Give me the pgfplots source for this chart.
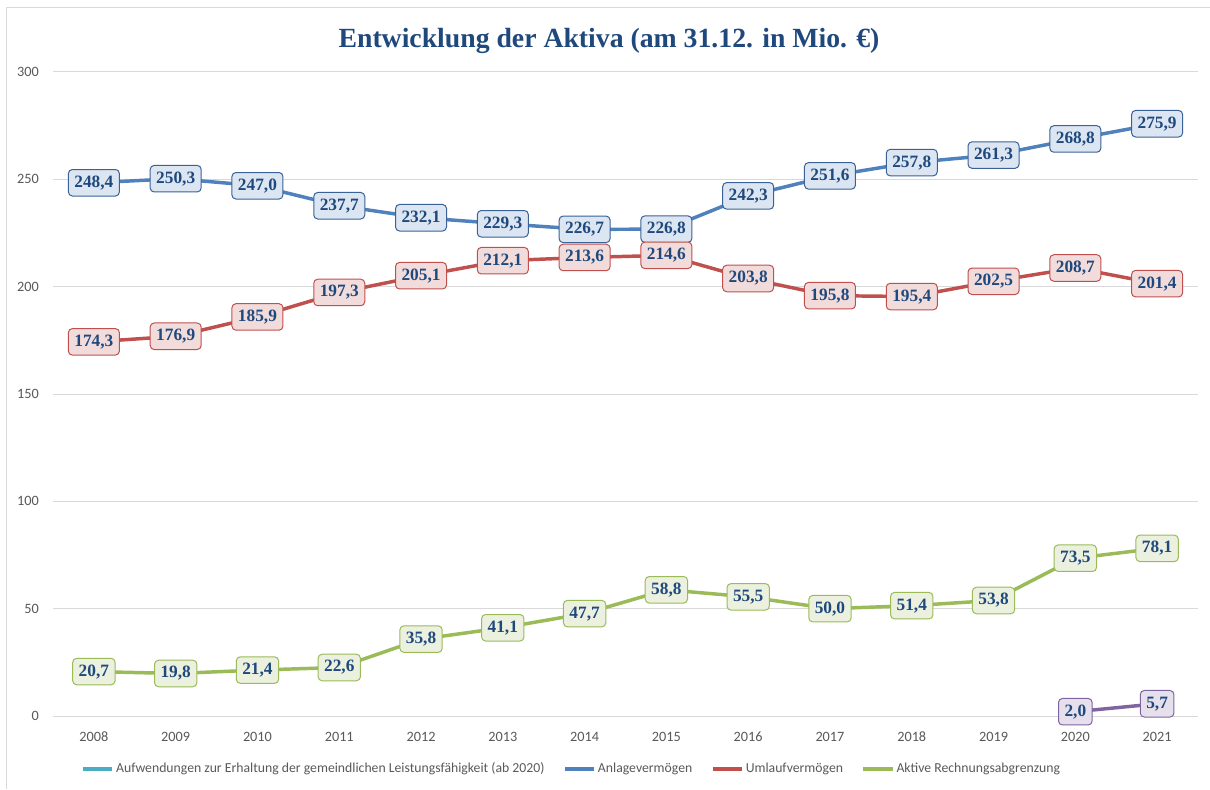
\documentclass[border=0pt]{standalone}
\usepackage{pgfplots}
\pgfplotsset{compat=1.18}
\usepackage{fontspec}
\setmainfont{Liberation Serif}
\newfontfamily\carlito{Carlito}
\definecolor{cblue}{HTML}{4F81BD}
\definecolor{cbluefill}{HTML}{DCE6F2}
\definecolor{cblueedge}{HTML}{3A6296}
\definecolor{cred}{HTML}{C0504D}
\definecolor{credfill}{HTML}{F2DCDB}
\definecolor{cgreen}{HTML}{9BBB59}
\definecolor{cgreenfill}{HTML}{EBF1DE}
\definecolor{cpurple}{HTML}{8064A2}
\definecolor{cpurplefill}{HTML}{E6E0EC}
\definecolor{ccyan}{HTML}{4BACC6}
\definecolor{labtext}{HTML}{1F497D}
\definecolor{titlecol}{HTML}{1F497D}
\definecolor{gridcol}{HTML}{D9D9D9}
\definecolor{tickcol}{HTML}{595959}
\begin{document}
\begin{tikzpicture}
\useasboundingbox (0,0) rectangle (907.5pt,591.75pt);
\fill[white] (0,0) rectangle (907.5pt,591.75pt);
\draw[gridcol, line width=0.75pt] (4.5pt,0pt) -- (4.5pt,585.75pt) -- (907.5pt,585.75pt);
\node[font=\bfseries\fontsize{20.8}{24}\selectfont, text=titlecol] at (456.75pt,561pt) {Entwicklung der Aktiva (am 31.12. in Mio. €)};
\begin{axis}[
  at={(39.75pt,54.75pt)}, anchor=south west,
  scale only axis, width=858.75pt, height=483pt,
  xmin=-0.5, xmax=13.5, ymin=0, ymax=300,
  xtick={0,...,13},
  xticklabels={2008,2009,2010,2011,2012,2013,2014,2015,2016,2017,2018,2019,2020,2021},
  ytick={0,50,...,300},
  ymajorgrids, grid style={gridcol, line width=0.75pt},
  axis line style={draw=none},
  major tick length=0pt,
  /pgf/number format/assume math mode=true,
  ticklabel style={font=\carlito\fontsize{10.7}{12}\selectfont, text=tickcol},
  yticklabel style={inner sep=0pt, anchor=east, xshift=-10.5pt},
  xticklabel style={inner sep=0pt, anchor=center, yshift=-15.75pt},
  clip=false,
  legend columns=4,
  legend style={at={(0.453,-0.082)}, anchor=center, draw=none, fill=none,
    font=\carlito\fontsize{10.3}{12}\selectfont, text=tickcol,
    /tikz/every even column/.append style={column sep=12.5pt},
    nodes={inner xsep=1.5pt}},
  legend image code/.code={\draw[#1, line width=2.6pt] (0pt,0pt) -- (22pt,0pt);},
  every axis plot/.append style={line width=2.6pt, line join=round, mark=none},
  nodes near coords,
  every node near coord/.append style={anchor=center, rounded corners=3pt, line width=0.75pt,
    /pgf/number format/fixed, /pgf/number format/fixed zerofill, /pgf/number format/precision=1,
    /pgf/number format/use comma, /pgf/number format/assume math mode=true,
    font=\bfseries\fontsize{13}{15}\selectfont, text=labtext,
    inner xsep=4.5pt, inner ysep=4pt, text height=9.3pt, text depth=2.6pt},
]
\addlegendimage{ccyan}
\addlegendentry{Aufwendungen zur Erhaltung der gemeindlichen Leistungsfähigkeit (ab 2020)}
\addplot[cblue, every node near coord/.append style={draw=cblueedge, fill=cbluefill}] coordinates {
(0,248.4) (1,250.3) (2,247.0) (3,237.7) (4,232.1) (5,229.3) (6,226.7) (7,226.8) (8,242.3) (9,251.6) (10,257.8) (11,261.3) (12,268.8) (13,275.9)};
\addlegendentry{Anlagevermögen}
\addplot[cred, every node near coord/.append style={draw=cred, fill=credfill}] coordinates {
(0,174.3) (1,176.9) (2,185.9) (3,197.3) (4,205.1) (5,212.1) (6,213.6) (7,214.6) (8,203.8) (9,195.8) (10,195.4) (11,202.5) (12,208.7) (13,201.4)};
\addlegendentry{Umlaufvermögen}
\addplot[cgreen, every node near coord/.append style={draw=cgreen, fill=cgreenfill}] coordinates {
(0,20.7) (1,19.8) (2,21.4) (3,22.6) (4,35.8) (5,41.1) (6,47.7) (7,58.8) (8,55.5) (9,50.0) (10,51.4) (11,53.8) (12,73.5) (13,78.1)};
\addlegendentry{Aktive Rechnungsabgrenzung}
\addplot[cpurple, forget plot, every node near coord/.append style={draw=cpurple, fill=cpurplefill}] coordinates {
(12,2.0) (13,5.7)};
\end{axis}
\end{tikzpicture}
\end{document}
